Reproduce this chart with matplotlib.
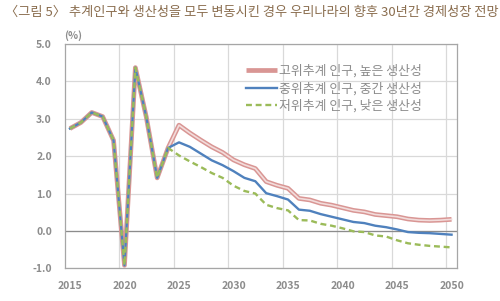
import numpy as np
import matplotlib.pyplot as plt
from matplotlib.ticker import MultipleLocator, FixedLocator

plt.rcParams['font.family'] = ['Noto Sans CJK KR', 'DejaVu Sans']

TITLE = '〈그림 5〉 추계인구와 생산성을 모두 변동시킨 경우 우리나라의 향후 30년간 경제성장 전망'

YEARS = list(range(2015, 2051))

# 2015-2024: common actual values
COMMON = [2.74, 2.9, 3.17, 3.06, 2.42, -0.92, 4.37, 3.05, 1.42, 2.22]

HIGH = COMMON + [2.83, 2.62, 2.43, 2.25, 2.1, 1.9, 1.77, 1.67, 1.32, 1.22, 1.14,
                 0.87, 0.83, 0.74, 0.69, 0.62, 0.55, 0.51, 0.44, 0.41, 0.38,
                 0.32, 0.29, 0.28, 0.29, 0.31]
MID = COMMON + [2.37, 2.25, 2.07, 1.89, 1.76, 1.6, 1.42, 1.33, 1.01, 0.93, 0.84,
                0.57, 0.54, 0.45, 0.38, 0.31, 0.24, 0.21, 0.14, 0.1, 0.04,
                -0.03, -0.05, -0.06, -0.08, -0.1]
LOW = COMMON + [2.02, 1.86, 1.71, 1.55, 1.42, 1.21, 1.07, 1.0, 0.7, 0.61, 0.55,
                0.29, 0.28, 0.19, 0.14, 0.07, -0.01, -0.03, -0.12, -0.15, -0.25,
                -0.33, -0.37, -0.4, -0.42, -0.44]

LABELS = ['고위추계 인구, 높은 생산성', '중위추계 인구, 중간 생산성', '저위추계 인구, 낮은 생산성']

GRAY = '#8c8c8c'

fig = plt.figure(figsize=(5, 3.01), dpi=100)
ax = fig.add_axes([0.129, 0.1086, 0.785, 0.745])

# red: double line look
l1, = ax.plot(YEARS, HIGH, color='#d99694', lw=3.4, solid_capstyle='butt', zorder=3)
ax.plot(YEARS, HIGH, color='#f2dcdb', lw=1.2, zorder=3.1)
l2, = ax.plot(YEARS, MID, color='#4f81bd', lw=1.7, zorder=4)
l3, = ax.plot(YEARS, LOW, color='#9bbb59', lw=1.7, ls=(0, (2.5, 1.6)), zorder=5)

ax.set_xlim(2014.5, 2050.5)
ax.set_ylim(-1, 5)
ax.xaxis.set_major_locator(FixedLocator(range(2015, 2051, 5)))
ax.xaxis.set_minor_locator(FixedLocator(np.arange(2019.5, 2050, 5)))
ax.yaxis.set_major_locator(MultipleLocator(1))
ax.set_yticklabels([f'{v:.1f}' for v in ax.get_yticks()])

ax.grid(which='minor', axis='x', color='#d9d9d9', lw=0.9)
ax.grid(which='major', axis='y', color='#d9d9d9', lw=0.9)
ax.axhline(0, color='#8c8c8c', lw=0.9, zorder=2)
ax.set_axisbelow(True)

for s in ax.spines.values():
    s.set_color('#a6a6a6')
    s.set_linewidth(0.9)

ax.tick_params(which='both', length=0)
ax.tick_params(axis='x', pad=9, labelsize=7.5, labelcolor=GRAY)
ax.tick_params(axis='y', pad=9, labelsize=7.5, labelcolor=GRAY)
for t in ax.get_xticklabels() + ax.get_yticklabels():
    t.set_fontweight('bold')

ax.text(0.0, 1.015, '(%)', transform=ax.transAxes, fontsize=7.5, color=GRAY,
        fontweight='bold', va='bottom', ha='left')

leg = ax.legend([l1, l2, l3], LABELS, loc='upper left', bbox_to_anchor=(0.44, 0.95),
                frameon=False, fontsize=9.3, handlelength=2.4, handletextpad=0.15,
                labelspacing=0.32, borderaxespad=0.3)
for t in leg.get_texts():
    t.set_color('#8c8c8c')

fig.text(0.01, 0.96, TITLE, fontsize=9.5, color='#8a6d4e', va='center', ha='left')

fig.savefig('out.png', dpi=100)
